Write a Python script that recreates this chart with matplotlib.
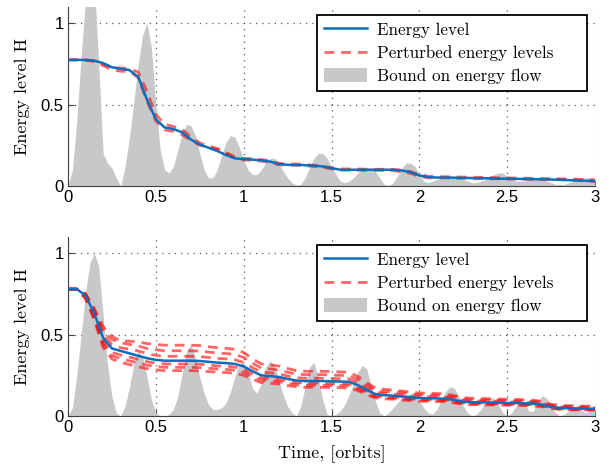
import numpy as np
import matplotlib
matplotlib.use("Agg")
import matplotlib.pyplot as plt

# ---- data ------------------------------------------------------------------
# gray "bound on energy flow", sampled every 0.025 orbit
bound_top = [
    0.00, 0.10, 0.40, 0.80, 1.15, 1.35, 1.25, 0.75, 0.20, 0.14,
    0.11, 0.05, 0.00, 0.12, 0.30, 0.52, 0.75, 0.93, 1.00, 0.85,
    0.50, 0.22, 0.10, 0.08, 0.12, 0.22, 0.32, 0.38, 0.37, 0.31,
    0.20, 0.10, 0.05, 0.05, 0.10, 0.19, 0.27, 0.31, 0.30, 0.24,
    0.16, 0.10, 0.07, 0.07, 0.10, 0.14, 0.17, 0.17, 0.14, 0.09,
    0.05, 0.02, 0.005, 0.01, 0.05, 0.11, 0.17, 0.20, 0.20, 0.17,
    0.12, 0.07, 0.03, 0.02, 0.03, 0.05, 0.08, 0.10, 0.11, 0.11,
    0.09, 0.05, 0.01, 0.00, 0.02, 0.06, 0.11, 0.14, 0.14, 0.12,
    0.07, 0.03, 0.02, 0.03, 0.04, 0.05, 0.05, 0.05, 0.05, 0.05,
    0.04, 0.03, 0.02, 0.02, 0.03, 0.04, 0.06, 0.07, 0.08, 0.08,
    0.06, 0.04, 0.03, 0.03, 0.03, 0.04, 0.04, 0.04, 0.04, 0.03,
    0.02, 0.01, 0.01, 0.01, 0.02, 0.03, 0.04, 0.05, 0.05, 0.05,
    0.04,
]
bound_bot = [
    0.00, 0.05, 0.25, 0.50, 0.76, 0.94, 1.00, 0.92, 0.62, 0.32,
    0.12, 0.02, 0.00, 0.06, 0.18, 0.32, 0.40, 0.36, 0.24, 0.10,
    0.02, 0.00, 0.00, 0.01, 0.04, 0.12, 0.26, 0.40, 0.44, 0.36,
    0.24, 0.14, 0.07, 0.04, 0.04, 0.05, 0.08, 0.15, 0.24, 0.32,
    0.33, 0.27, 0.17, 0.14, 0.20, 0.30, 0.34, 0.31, 0.22, 0.13,
    0.06, 0.02, 0.00, 0.06, 0.18, 0.30, 0.33, 0.24, 0.10, 0.01,
    0.00, 0.01, 0.03, 0.07, 0.13, 0.20, 0.27, 0.31, 0.29, 0.19,
    0.09, 0.02, 0.00, 0.02, 0.05, 0.08, 0.11, 0.13, 0.135, 0.12,
    0.09, 0.05, 0.02, 0.01, 0.04, 0.10, 0.15, 0.18, 0.17, 0.12,
    0.06, 0.02, 0.00, 0.01, 0.04, 0.08, 0.11, 0.11, 0.07, 0.02,
    0.00, 0.02, 0.06, 0.09, 0.07, 0.03, 0.03, 0.09, 0.125, 0.11,
    0.06, 0.02, 0.00, 0.01, 0.03, 0.05, 0.05, 0.03, 0.02, 0.05,
    0.07,
]

# energy levels, sampled every 0.05 orbit
energy_top = [
    0.775, 0.775, 0.775, 0.77, 0.755, 0.73, 0.72, 0.712, 0.67, 0.53,
    0.41, 0.36, 0.35, 0.33, 0.285, 0.255, 0.235, 0.215, 0.19, 0.17,
    0.165, 0.162, 0.158, 0.15, 0.135, 0.13, 0.13, 0.128, 0.125, 0.12,
    0.11, 0.10, 0.10, 0.10, 0.10, 0.10, 0.10, 0.10, 0.095, 0.085,
    0.065, 0.055, 0.052, 0.052, 0.051, 0.05, 0.049, 0.048, 0.047, 0.045,
    0.045, 0.044, 0.043, 0.042, 0.041, 0.04, 0.038, 0.036, 0.034, 0.032,
    0.03,
]
perturbed_top = [
    [0.775, 0.775, 0.775, 0.77, 0.75, 0.73, 0.725, 0.72, 0.70, 0.58,
     0.44, 0.38, 0.365, 0.35, 0.30, 0.265, 0.245, 0.23, 0.205, 0.18,
     0.17, 0.168, 0.162, 0.155, 0.14, 0.135, 0.135, 0.132, 0.128, 0.122,
     0.112, 0.105, 0.105, 0.105, 0.103, 0.103, 0.103, 0.102, 0.098, 0.088,
     0.07, 0.06, 0.058, 0.057, 0.056, 0.055, 0.054, 0.053, 0.052, 0.05,
     0.05, 0.049, 0.048, 0.047, 0.046, 0.045, 0.044, 0.043, 0.042, 0.04,
     0.037],
    [0.775, 0.775, 0.772, 0.765, 0.74, 0.715, 0.705, 0.705, 0.665, 0.52,
     0.40, 0.345, 0.335, 0.315, 0.28, 0.25, 0.235, 0.225, 0.20, 0.17,
     0.16, 0.158, 0.153, 0.145, 0.13, 0.128, 0.127, 0.125, 0.12, 0.115,
     0.105, 0.097, 0.097, 0.096, 0.096, 0.096, 0.095, 0.094, 0.088, 0.078,
     0.058, 0.05, 0.05, 0.05, 0.048, 0.047, 0.046, 0.045, 0.045, 0.044,
     0.043, 0.042, 0.042, 0.041, 0.04, 0.04, 0.039, 0.038, 0.035, 0.032,
     0.028],
]

energy_bot = [
    0.78, 0.78, 0.74, 0.63, 0.48, 0.415, 0.40, 0.385, 0.37, 0.355,
    0.345, 0.34, 0.34, 0.34, 0.34, 0.338, 0.333, 0.328, 0.325, 0.32,
    0.305, 0.275, 0.25, 0.245, 0.24, 0.228, 0.218, 0.215, 0.215, 0.215,
    0.213, 0.212, 0.21, 0.19, 0.16, 0.135, 0.128, 0.125, 0.12, 0.115,
    0.11, 0.11, 0.108, 0.106, 0.098, 0.088, 0.085, 0.084, 0.083, 0.082,
    0.08, 0.08, 0.078, 0.076, 0.07, 0.056, 0.05, 0.048, 0.046, 0.045,
    0.044,
]
perturbed_bot = [
    [0.78, 0.78, 0.75, 0.66, 0.55, 0.49, 0.46, 0.46, 0.455, 0.445,
     0.44, 0.435, 0.435, 0.435, 0.435, 0.433, 0.426, 0.42, 0.416, 0.41,
     0.39, 0.352, 0.32, 0.314, 0.307, 0.292, 0.279, 0.275, 0.275, 0.275,
     0.273, 0.271, 0.269, 0.243, 0.205, 0.173, 0.164, 0.16, 0.154, 0.147,
     0.141, 0.141, 0.138, 0.136, 0.125, 0.113, 0.109, 0.108, 0.106, 0.105,
     0.102, 0.102, 0.10, 0.097, 0.09, 0.072, 0.066, 0.064, 0.062, 0.061,
     0.06],
    [0.78, 0.78, 0.75, 0.65, 0.52, 0.47, 0.45, 0.44, 0.43, 0.415,
     0.407, 0.401, 0.401, 0.401, 0.401, 0.399, 0.393, 0.387, 0.384, 0.378,
     0.36, 0.325, 0.295, 0.289, 0.283, 0.269, 0.257, 0.254, 0.254, 0.254,
     0.251, 0.25, 0.248, 0.224, 0.189, 0.159, 0.151, 0.148, 0.142, 0.136,
     0.13, 0.13, 0.127, 0.125, 0.116, 0.104, 0.10, 0.099, 0.098, 0.097,
     0.094, 0.094, 0.092, 0.09, 0.083, 0.066, 0.06, 0.058, 0.056, 0.055,
     0.054],
    [0.78, 0.78, 0.745, 0.64, 0.50, 0.44, 0.42, 0.41, 0.40, 0.383,
     0.373, 0.367, 0.367, 0.367, 0.367, 0.365, 0.36, 0.354, 0.351, 0.346,
     0.329, 0.297, 0.27, 0.265, 0.259, 0.246, 0.235, 0.232, 0.232, 0.232,
     0.23, 0.229, 0.227, 0.205, 0.173, 0.146, 0.138, 0.135, 0.13, 0.124,
     0.119, 0.119, 0.117, 0.114, 0.106, 0.095, 0.092, 0.091, 0.09, 0.089,
     0.086, 0.086, 0.084, 0.082, 0.076, 0.06, 0.054, 0.052, 0.05, 0.049,
     0.048],
    [0.78, 0.78, 0.73, 0.61, 0.46, 0.39, 0.375, 0.362, 0.348, 0.334,
     0.324, 0.32, 0.32, 0.32, 0.32, 0.318, 0.313, 0.308, 0.306, 0.301,
     0.287, 0.259, 0.235, 0.23, 0.226, 0.214, 0.205, 0.202, 0.202, 0.202,
     0.20, 0.199, 0.197, 0.179, 0.15, 0.127, 0.12, 0.118, 0.113, 0.108,
     0.103, 0.103, 0.102, 0.10, 0.092, 0.083, 0.08, 0.079, 0.078, 0.077,
     0.075, 0.075, 0.073, 0.071, 0.066, 0.053, 0.047, 0.045, 0.043, 0.042,
     0.041],
    [0.78, 0.78, 0.725, 0.60, 0.44, 0.37, 0.352, 0.339, 0.326, 0.312,
     0.304, 0.299, 0.299, 0.299, 0.299, 0.297, 0.293, 0.289, 0.286, 0.282,
     0.268, 0.242, 0.22, 0.216, 0.211, 0.201, 0.192, 0.189, 0.189, 0.189,
     0.187, 0.187, 0.185, 0.167, 0.141, 0.119, 0.113, 0.11, 0.106, 0.101,
     0.097, 0.097, 0.095, 0.093, 0.086, 0.077, 0.075, 0.074, 0.073, 0.072,
     0.07, 0.07, 0.069, 0.067, 0.062, 0.049, 0.044, 0.042, 0.04, 0.04,
     0.039],
    [0.78, 0.78, 0.72, 0.59, 0.42, 0.35, 0.33, 0.316, 0.303, 0.291,
     0.283, 0.279, 0.279, 0.279, 0.279, 0.277, 0.273, 0.269, 0.267, 0.262,
     0.25, 0.226, 0.205, 0.201, 0.197, 0.187, 0.179, 0.176, 0.176, 0.176,
     0.175, 0.174, 0.172, 0.156, 0.131, 0.111, 0.105, 0.103, 0.098, 0.094,
     0.09, 0.09, 0.089, 0.087, 0.08, 0.072, 0.07, 0.069, 0.068, 0.067,
     0.066, 0.066, 0.064, 0.062, 0.057, 0.046, 0.041, 0.039, 0.038, 0.037,
     0.036],
]

xticks = [0, 0.5, 1, 1.5, 2, 2.5, 3]
yticks = [0, 0.5, 1]

blue = "#0a6ebd"
gray = "#c7c8ca"
serif = "cmr10"


def draw_panel(ax, bound, energy, perturbed):
    t_bound = np.linspace(0, 3, len(bound))
    t_energy = np.linspace(0, 3, len(energy))

    ax.fill_between(t_bound, 0, bound, color=gray, lw=0, zorder=1,
                    label="Bound on energy flow")
    for k, p in enumerate(perturbed):
        ax.plot(np.linspace(0, 3, len(p)), p, color="red", alpha=0.6, lw=2.0,
                dashes=(3.5, 2.5), zorder=2,
                label="Perturbed energy levels" if k == 0 else None)
    ax.plot(t_energy, energy, color=blue, lw=1.8, zorder=3, label="Energy level")

    ax.set_xlim(0, 3)
    ax.set_ylim(0, 1.1)
    ax.set_xticks(xticks)
    ax.set_xticklabels(["0", "0.5", "1", "1.5", "2", "2.5", "3"])
    ax.set_yticks(yticks)
    ax.set_yticklabels(["0", "0.5", "1"])
    ax.set_axisbelow(True)
    ax.grid(True, linestyle=(0, (1, 4)), color="0.35", lw=0.9)
    for s in ["top", "right"]:
        ax.spines[s].set_visible(False)
    for s in ["left", "bottom"]:
        ax.spines[s].set_color("0.25")
        ax.spines[s].set_linewidth(0.8)
    ax.tick_params(direction="in", length=4, width=0.8, color="0.25",
                   labelsize=12, pad=3)
    for lab in ax.get_xticklabels() + ax.get_yticklabels():
        lab.set_fontfamily("Liberation Sans")
    ax.set_ylabel("Energy level H", fontfamily=serif, fontsize=13, labelpad=8)

    h, l = ax.get_legend_handles_labels()
    order = [l.index("Energy level"), l.index("Perturbed energy levels"),
             l.index("Bound on energy flow")]
    # legend box stretched to the reference width (extra room on the right)
    leg = ax.legend([h[i] for i in order], [l[i] for i in order],
                    loc="upper left", bbox_to_anchor=(0.4725, 0.5, 0.512, 0.455),
                    mode="expand", borderaxespad=0, fancybox=False,
                    framealpha=1, edgecolor="black",
                    prop={"family": serif, "size": 12.3},
                    handlelength=2.5, labelspacing=0.42, borderpad=0.4,
                    handletextpad=0.6, handleheight=0.9)
    leg.get_frame().set_linewidth(1.3)
    leg.set_zorder(5)


fig = plt.figure(figsize=(6.12, 4.68), dpi=100)
ax1 = fig.add_axes([68 / 612, 1 - 186 / 468, 527 / 612, 179 / 468])
ax2 = fig.add_axes([68 / 612, 1 - 416 / 468, 527 / 612, 179 / 468])

draw_panel(ax1, bound_top, energy_top, perturbed_top)
draw_panel(ax2, bound_bot, energy_bot, perturbed_bot)
ax2.set_xlabel("Time, [orbits]", fontfamily=serif, fontsize=13, labelpad=7)

fig.savefig("out.png", dpi=100)
